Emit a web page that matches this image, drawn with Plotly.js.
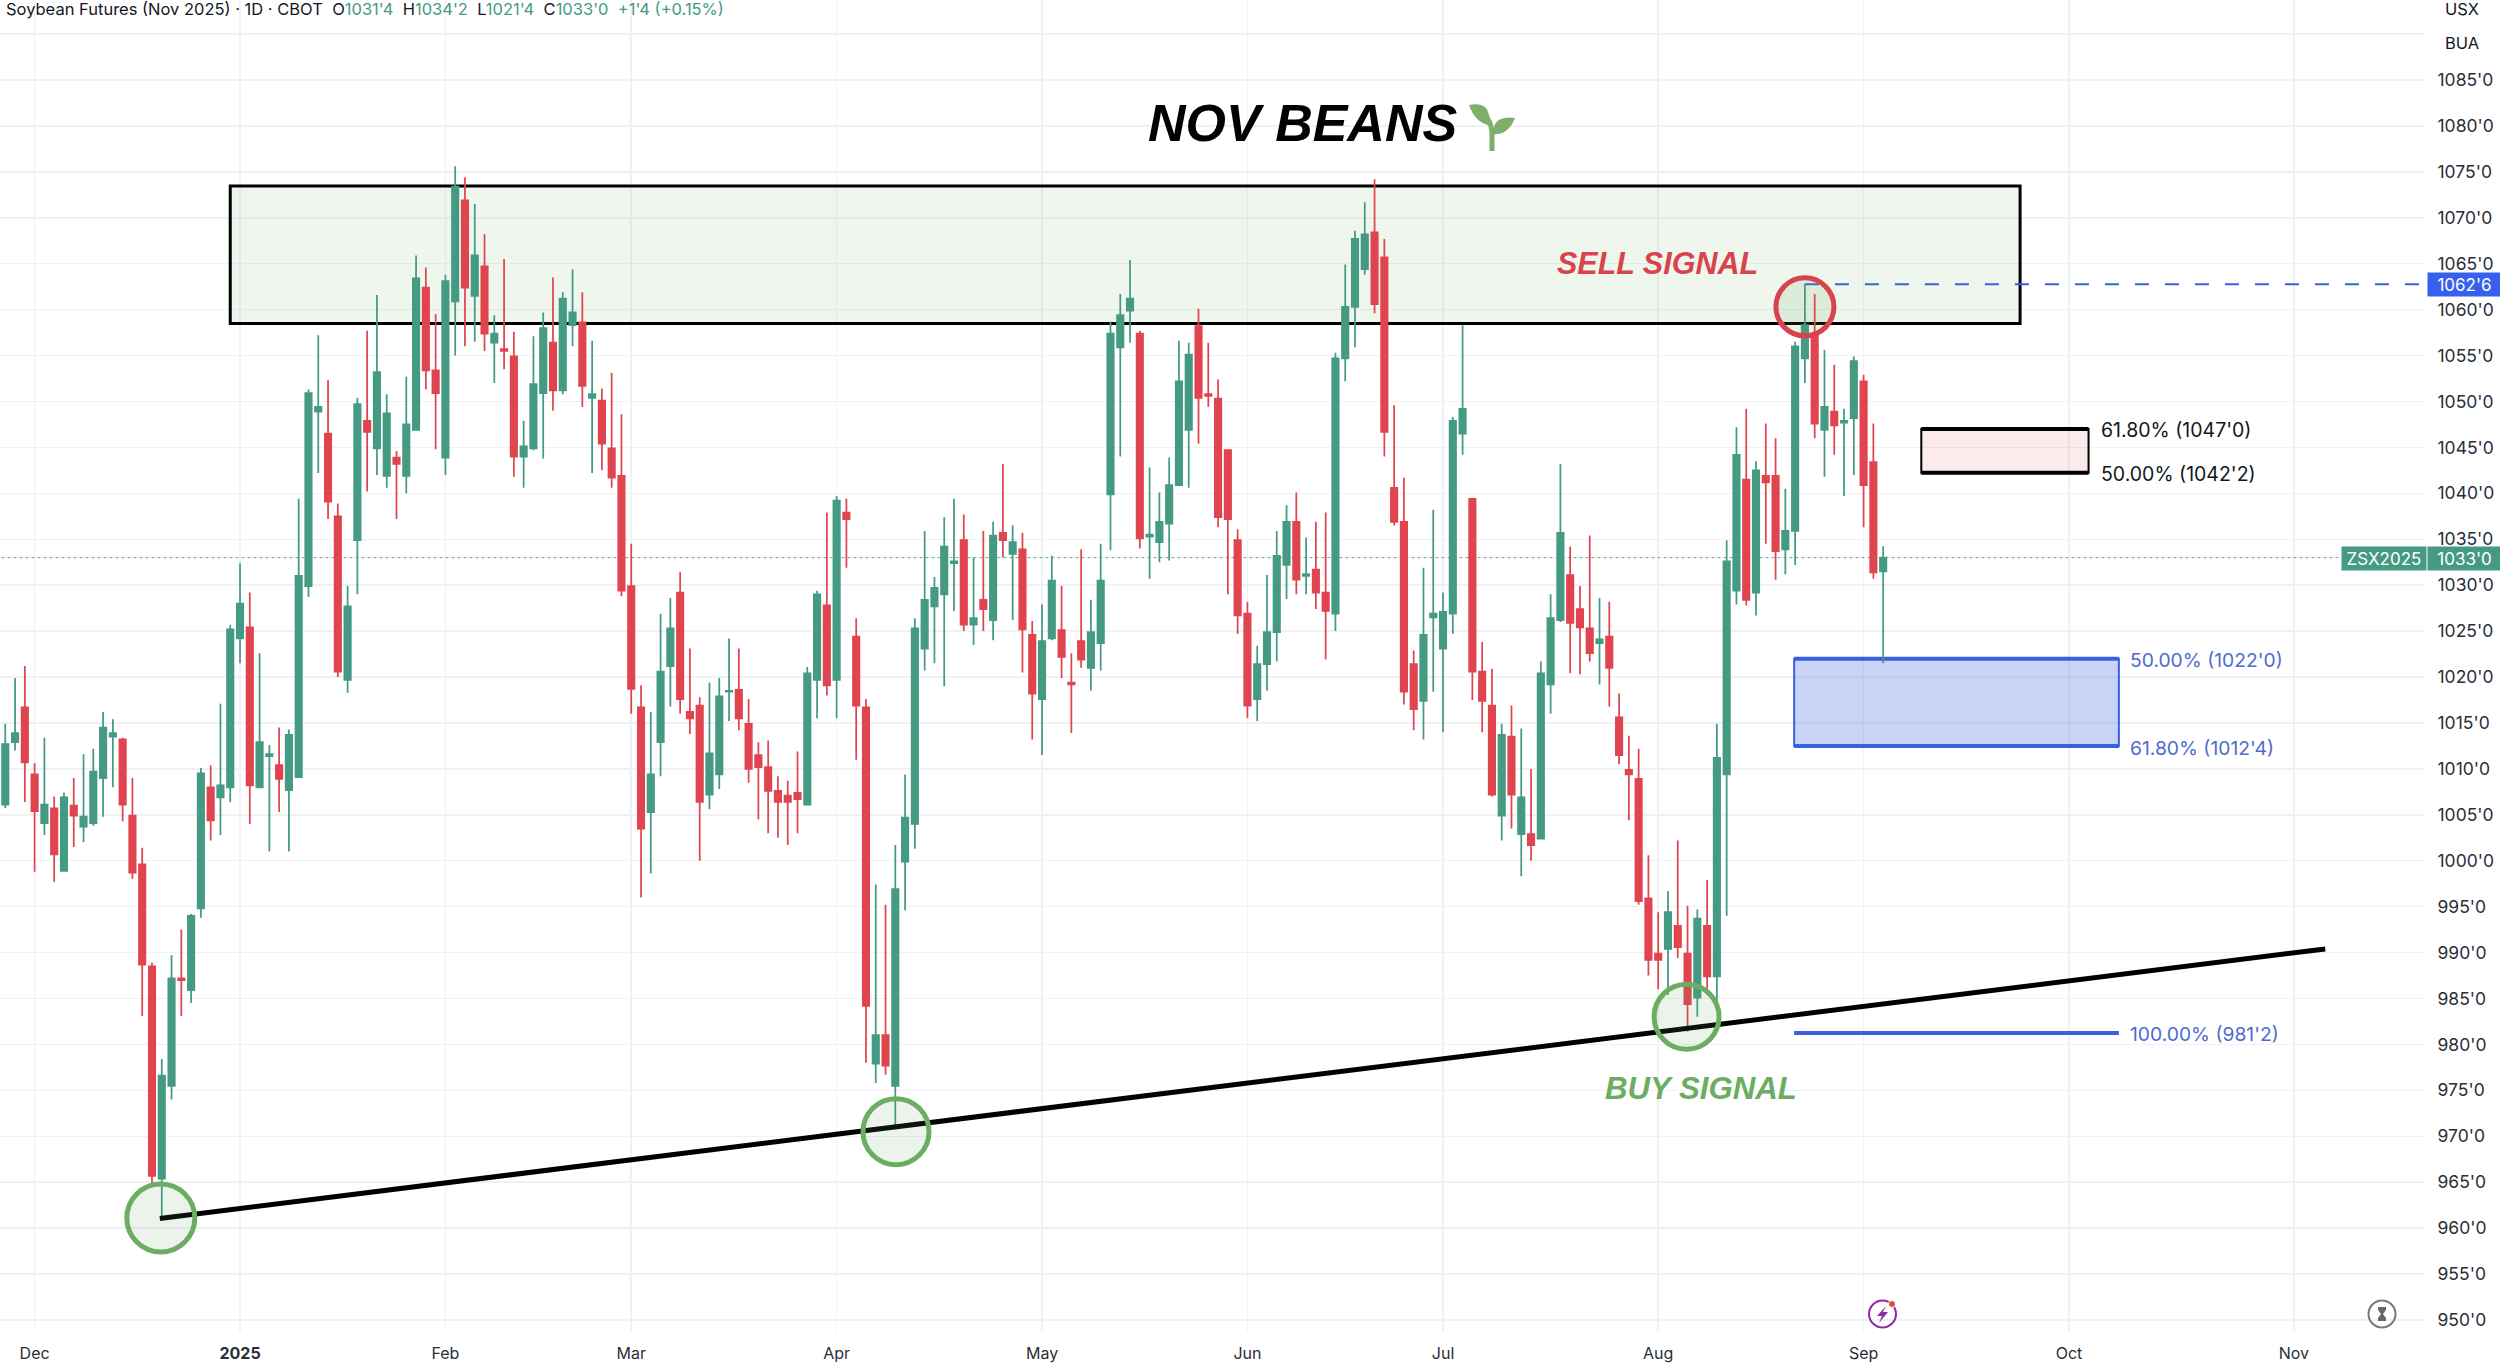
<!DOCTYPE html>
<html>
<head>
<meta charset="utf-8">
<script src="https://cdn.plot.ly/plotly-3.0.1.min.js"></script>
<style>html,body{margin:0;padding:0;background:#fff}#c{width:2500px;height:1363px}</style>
</head>
<body>
<div id="c"></div>
<script>
// ---- chart values (prices in cents/bu, decimal) ----
const opens = [
1006.1,1012.9,1016.7,1009.4,1004.1,1005.7,998.9,1006.0,1003.7,1004.1,
1009.0,1013.5,1013.2,1004.9,999.6,988.5,965.4,975.5,987.2,985.9,
994.8,1008.0,1006.9,1008.0,1024.2,1025.4,1008.0,1011.4,1010.4,1007.7,
1009.1,1029.9,1048.9,1046.5,1037.5,1019.7,1034.9,1047.9,1044.9,1041.9,
1043.9,1041.9,1046.9,1062.4,1053.4,1043.9,1060.9,1071.9,1061.5,1064.7,
1056.4,1055.7,1054.9,1044.0,1044.9,1050.9,1056.4,1051.2,1058.3,1058.6,
1050.4,1050.1,1044.9,1041.9,1029.9,1016.7,1005.3,1012.9,1021.2,1029.2,
1016.2,1016.9,1007.2,1009.4,1018.4,1018.6,1014.9,1011.5,1010.2,1007.6,
1007.1,1007.4,1006.1,1019.7,1027.8,1019.7,1037.9,1024.4,1016.7,977.9,
981.0,975.5,999.9,1004.0,1023.1,1027.7,1029.0,1032.4,1034.9,1025.7,
1028.4,1026.2,1035.7,1033.4,1033.9,1024.6,1017.6,1024.2,1025.1,1019.4,
1023.9,1021.0,1023.7,1039.9,1055.9,1059.9,1057.4,1035.3,1034.7,1036.7,
1040.9,1046.9,1058.2,1050.8,1050.3,1044.7,1034.9,1026.9,1017.6,1021.4,
1024.9,1032.2,1036.9,1031.0,1031.7,1029.2,1026.9,1054.7,1060.3,1064.4,
1068.4,1065.7,1040.6,1036.9,1021.4,1017.4,1026.5,1023.1,1026.9,1046.5,
1039.4,1020.6,1016.9,1004.9,1013.5,1002.9,1002.9,1002.4,1019.2,1026.2,
1031.1,1027.4,1025.3,1023.7,1024.4,1015.6,1009.9,1008.9,995.9,989.9,
990.4,992.9,989.9,985.1,992.9,987.4,1009.4,1029.4,1041.5,1029.2,
1041.9,1041.9,1033.9,1035.9,1054.7,1057.3,1046.9,1048.9,1047.7,1048.2,
1052.2,1043.4,1031.5];
const highs = [
1014.9,1019.9,1021.2,1010.6,1013.4,1007.0,1007.4,1009.0,1011.6,1012.2,
1016.2,1015.4,1013.4,1009.0,1001.4,988.9,978.4,989.7,992.5,994.2,
1010.1,1010.4,1017.1,1025.7,1032.4,1029.2,1022.6,1012.6,1014.5,1014.3,
1039.4,1051.3,1057.2,1052.3,1038.9,1029.9,1050.4,1057.7,1061.6,1050.8,
1044.6,1052.7,1065.9,1064.6,1059.5,1063.8,1075.6,1074.4,1071.5,1068.2,
1059.4,1065.5,1057.6,1047.9,1057.1,1059.7,1063.5,1061.9,1064.4,1061.9,
1056.6,1051.4,1053.1,1048.6,1034.5,1019.1,1016.2,1026.9,1028.6,1031.4,
1023.1,1017.8,1019.4,1019.9,1024.2,1023.1,1017.6,1012.9,1013.1,1009.2,
1008.7,1011.9,1021.1,1029.4,1037.9,1039.7,1039.4,1026.4,1017.6,997.4,
995.2,1001.7,1009.4,1026.4,1035.9,1030.9,1037.4,1039.4,1037.7,1033.0,
1035.9,1036.9,1043.2,1036.5,1035.7,1026.1,1027.9,1033.2,1029.9,1022.6,
1033.9,1028.4,1034.5,1058.7,1061.7,1065.4,1057.7,1042.8,1040.1,1043.9,
1056.6,1056.4,1060.1,1056.4,1052.4,1044.7,1036.1,1028.2,1023.4,1031.1,
1035.9,1038.7,1040.1,1035.2,1036.9,1037.9,1055.3,1064.9,1068.6,1071.7,
1074.2,1067.7,1049.6,1041.7,1022.9,1031.9,1038.2,1029.2,1048.3,1058.3,
1039.5,1023.8,1020.9,1014.9,1016.9,1014.4,1010.0,1021.7,1029.0,1043.2,
1034.2,1029.9,1035.4,1028.6,1028.2,1018.2,1013.6,1012.2,1000.6,994.4,
996.7,1002.2,995.1,994.7,997.9,1014.9,1034.9,1047.2,1049.2,1043.5,
1047.6,1046.0,1040.5,1056.5,1062.75,1061.7,1055.6,1054.0,1049.2,1054.9,
1052.9,1047.6,1034.25];
const lows = [
1005.7,1012.0,1006.4,998.8,1002.8,997.7,998.9,1001.5,1002.0,1003.8,
1004.8,1008.0,1004.3,998.0,983.1,964.6,961.2,974.0,983.1,984.5,
993.8,1002.2,1002.8,1006.4,1021.5,1004.0,1008.0,1001.0,1005.3,1001.0,
1009.1,1028.7,1042.2,1037.2,1020.0,1018.3,1029.0,1040.2,1042.0,1040.6,
1037.2,1040.0,1046.9,1051.3,1044.8,1042.0,1055.0,1056.0,1056.5,1055.5,
1052.0,1053.5,1041.8,1040.6,1044.7,1043.8,1049.0,1050.8,1056.0,1049.4,
1042.2,1042.5,1040.6,1028.8,1016.0,996.0,998.6,1009.2,1016.8,1016.0,
1013.8,1000.0,1005.6,1007.8,1015.2,1014.2,1008.5,1004.5,1003.0,1002.5,
1001.7,1003.0,1006.0,1015.5,1018.0,1015.5,1031.9,1011.0,978.0,975.8,
976.7,971.2,994.6,1001.3,1020.7,1021.5,1019.0,1027.2,1025.0,1023.5,
1025.0,1024.0,1033.0,1026.2,1020.5,1013.2,1011.5,1024.0,1019.9,1013.9,
1021.0,1018.5,1020.7,1033.8,1044.0,1056.4,1034.0,1030.7,1032.5,1032.7,
1040.9,1040.6,1045.4,1049.4,1036.3,1029.0,1024.7,1015.5,1015.2,1018.5,
1021.7,1028.5,1029.0,1029.0,1027.4,1021.9,1025.0,1052.2,1055.9,1063.8,
1059.6,1044.0,1036.5,1017.0,1014.2,1013.2,1018.4,1014.0,1024.7,1044.2,
1017.5,1014.0,1007.0,1002.2,1003.5,998.3,1000.0,1002.3,1016.0,1026.0,
1020.4,1020.3,1021.7,1019.2,1016.8,1010.5,1004.4,995.2,987.5,986.0,
985.4,989.4,981.4,983.0,985.4,984.7,994.0,1027.9,1027.8,1026.7,
1034.5,1030.6,1031.2,1032.2,1052.0,1046.0,1041.8,1044.2,1039.7,1042.0,
1036.3,1030.7,1021.5];
const closes = [
1012.7,1013.9,1010.7,1005.4,1006.1,1000.7,1006.9,1004.9,1004.8,1009.7,
1014.5,1013.9,1006.1,998.7,988.7,965.7,976.6,987.2,987.0,994.0,
1009.5,1004.4,1008.2,1025.2,1028.0,1008.2,1012.9,1011.6,1008.9,1013.7,
1031.0,1050.9,1049.4,1039.1,1020.6,1027.7,1049.7,1046.7,1053.2,1048.7,
1043.2,1047.5,1063.4,1053.4,1050.9,1063.1,1073.4,1062.4,1065.9,1057.4,
1057.4,1055.5,1044.0,1045.1,1051.9,1058.0,1051.2,1061.2,1059.7,1051.7,
1050.8,1045.4,1041.7,1029.4,1018.7,1003.5,1009.4,1020.6,1025.3,1017.6,
1015.5,1006.4,1011.7,1017.9,1018.5,1015.5,1010.0,1010.2,1007.6,1006.4,
1006.4,1006.7,1020.4,1029.0,1019.1,1039.2,1037.2,1016.9,984.2,981.0,
977.7,996.9,1004.7,1025.3,1028.4,1029.7,1034.2,1032.6,1025.7,1026.4,
1027.4,1035.4,1034.9,1034.7,1025.2,1018.2,1023.9,1030.5,1022.2,1019.2,
1021.9,1024.9,1030.5,1057.4,1059.4,1061.2,1035.1,1035.5,1036.9,1040.9,
1052.2,1055.1,1050.4,1050.6,1037.4,1037.2,1026.7,1016.9,1021.4,1024.9,
1033.2,1036.9,1030.6,1031.2,1029.2,1027.2,1054.7,1060.3,1067.7,1068.2,
1060.6,1046.7,1036.9,1018.4,1016.5,1024.6,1026.9,1027.1,1047.9,1049.2,
1020.6,1017.4,1007.2,1013.7,1007.2,1006.9,1001.7,1020.4,1026.4,1035.7,
1025.9,1025.4,1022.6,1024.1,1021.0,1011.5,1009.4,995.6,989.2,989.2,
994.4,990.6,984.4,993.7,987.4,1011.2,1032.6,1044.2,1028.4,1042.5,
1041.2,1033.7,1035.9,1056.0,1058.3,1047.6,1049.4,1047.4,1047.9,1054.4,
1040.9,1031.4,1033.0];
const barIndex = opens.map((_, i) => i);

const monthBars   = [3, 24, 45, 64, 85, 106, 127, 147, 169, 190, 211, 234];
const monthLabels = ['Dec', '<b>2025</b>', 'Feb', 'Mar', 'Apr', 'May', 'Jun', 'Jul', 'Aug', 'Sep', 'Oct', 'Nov'];
const priceTicks  = [950,955,960,965,970,975,980,985,990,995,1000,1005,1010,1015,1020,1025,1030,1035,1040,1045,1050,1055,1060,1065,1070,1075,1080,1085,1090];
const priceLabels = priceTicks.map(p => p === 1090 ? '' : p + "'0");

const resistanceZone = {x0: 23, x1: 206, top: 1073.45, bottom: 1058.5};
const trendLine      = {x0: 15.8, y0: 961.05, x1: 237.2, y1: 990.4};
const lastPrice = 1033, swingHigh = 1062.75;
const fibUpper = {top: 1047, bottom: 1042.25, x0: 195.9, x1: 213};
const fibLower = {top: 1022, bottom: 1012.5, full: 981.25, x0: 182.9, x1: 216.1};
const buyCircles  = [[15.9, 961.1, 68], [91.07, 970.5, 66], [171.9, 983, 65]];
const sellCircle  = [184, 1060.3, 58];

// ---- styling ----
const UP = '#459a83', DOWN = '#e0454f', BLUE = '#3860e0', GREEN = '#6bae62', RED = '#d9434b';
const PW = 2425, PH = 1331;
const px = x => x / PW, py = y => 1 - y / PH;
const UI = 'Inter, "Noto Sans", sans-serif', DISP = '"Liberation Sans", Arial, sans-serif';

function pxPath(cmds) { // cmds: page-pixel path, converted to paper coordinates
  return cmds.replace(/(-?[\d.]+),(-?[\d.]+)/g, (m, a, b) => px(+a).toFixed(5) + ',' + py(+b).toFixed(5));
}
const paperShape = o => Object.assign({xref: 'paper', yref: 'paper', layer: 'above'}, o);
const pxEllipse = (cx, cy, r, line, fill) => paperShape({type: 'circle', x0: px(cx - r), x1: px(cx + r), y0: py(cy + r), y1: py(cy - r), line, fillcolor: fill || 'rgba(0,0,0,0)'});

const circleShape = (c, col) => ({type: 'circle', xref: 'x', yref: 'y', xsizemode: 'pixel', ysizemode: 'pixel',
  xanchor: c[0], yanchor: c[1], x0: -c[2] / 2, x1: c[2] / 2, y0: -c[2] / 2, y1: c[2] / 2,
  line: {color: col, width: 5}, fillcolor: 'rgba(90,160,80,0.12)', layer: 'above'});
const dataLine = (x0, y0, x1, y1, color, width, dash, layer) => ({type: 'line', xref: 'x', yref: 'y', x0, y0, x1, y1, line: {color, width, dash: dash || 'solid'}, layer: layer || 'between'});

const shapes = [
  {type: 'rect', xref: 'x', yref: 'y', x0: resistanceZone.x0, x1: resistanceZone.x1, y0: resistanceZone.bottom, y1: resistanceZone.top,
   fillcolor: 'rgba(76,160,70,0.09)', line: {color: '#000', width: 3}, layer: 'between'},
  dataLine(-1, lastPrice, 238.8, lastPrice, '#6aa796', 1, 'dot'),
  // fib boxes
  {type: 'rect', xref: 'x', yref: 'y', x0: fibUpper.x0, x1: fibUpper.x1, y0: fibUpper.bottom, y1: fibUpper.top, fillcolor: 'rgba(224,90,90,0.12)', line: {color: '#000', width: 2}, layer: 'between'},
  dataLine(fibUpper.x0, fibUpper.top, fibUpper.x1, fibUpper.top, '#000', 4),
  dataLine(fibUpper.x0, fibUpper.bottom, fibUpper.x1, fibUpper.bottom, '#000', 4),
  {type: 'rect', xref: 'x', yref: 'y', x0: fibLower.x0, x1: fibLower.x1, y0: fibLower.bottom, y1: fibLower.top, fillcolor: 'rgba(56,96,224,0.28)', line: {color: BLUE, width: 2}, layer: 'between'},
  dataLine(fibLower.x0, fibLower.top, fibLower.x1, fibLower.top, BLUE, 4),
  dataLine(fibLower.x0, fibLower.bottom, fibLower.x1, fibLower.bottom, BLUE, 4),
  dataLine(fibLower.x0, fibLower.full, fibLower.x1, fibLower.full, BLUE, 4),
  dataLine(sellCircle[0], swingHigh, 248, swingHigh, BLUE, 2, '14px,16px'),
  dataLine(trendLine.x0, trendLine.y0, trendLine.x1, trendLine.y1, '#000', 5, 'solid', 'above'),
  ...buyCircles.map(c => circleShape(c, GREEN)),
  circleShape(sellCircle, RED),
  // sprout icon
  paperShape({type: 'path', path: pxPath('M1469,105 Q1485,102 1488,112 Q1492,122 1488,125 Q1475,122 1469,105 Z'), fillcolor: '#7fb069', line: {width: 0}}),
  paperShape({type: 'path', path: pxPath('M1515,118 Q1500,116 1495,124 L1492,134 Q1508,136 1515,118 Z'), fillcolor: '#7fb069', line: {width: 0}}),
  paperShape({type: 'path', path: pxPath('M1492,151 L1492,132 Q1491,121 1484,114'), line: {color: '#7fb069', width: 5}}),
  // bottom icons
  pxEllipse(1882.5, 1314, 13.5, {color: '#8e2aa8', width: 2}),
  paperShape({type: 'path', path: pxPath('M1886,1306 L1877,1316 L1882,1316 L1879,1323 L1888,1312 L1883,1312 Z'), fillcolor: '#8e2aa8', line: {width: 0}}),
  pxEllipse(1892, 1304, 3.5, {color: '#fff', width: 1}, '#e2453c'),
  pxEllipse(2382, 1314, 13.5, {color: '#777', width: 2}),
  paperShape({type: 'path', path: pxPath('M2378,1307 L2386,1307 L2386,1310 L2383,1314 L2386,1318 L2386,1321 L2378,1321 L2378,1318 L2381,1314 L2378,1310 Z'), fillcolor: '#666', line: {width: 0}})
];

const pageText = (x, y, text, size, color, anchor, family) => ({xref: 'paper', yref: 'paper', x: px(x), y: py(y), text, showarrow: false,
  xanchor: anchor || 'left', yanchor: 'middle', align: 'left', font: {size, color, family: family || UI}, borderpad: 0});
const boxLabel = (x0, x1, yc, h, text, bg) => ({xref: 'paper', yref: 'paper', x: px(x0), y: py(yc), xanchor: 'left', yanchor: 'middle',
  width: x1 - x0, height: h, bgcolor: bg, text, showarrow: false, align: 'center', font: {size: 17, color: '#fff', family: UI}, borderpad: 0});
const G = s => `<span style="color:#459a83">${s}</span>`;
const F = '#4f6bcf';

const annotations = [
  pageText(5, 9, 'Soybean Futures (Nov 2025) · 1D · CBOT  O' + G("1031'4") + '  H' + G("1034'2") + '  L' + G("1021'4") + '  C' + G("1033'0") + '  ' + G("+1'4 (+0.15%)"), 16.5, '#131722'),
  pageText(2444, 9, 'USX', 16.5, '#131722'),
  pageText(2444, 43, 'BUA', 16.5, '#131722'),
  pageText(1147, 123, '<b><i>NOV BEANS</i></b>', 52, '#000', 'left', DISP),
  pageText(1556, 263, '<b><i>SELL SIGNAL</i></b>', 30.5, RED, 'left', DISP),
  pageText(1604, 1088, '<b><i>BUY SIGNAL</i></b>', 31.2, GREEN, 'left', DISP),
  pageText(2100, 430, "61.80% (1047'0)", 19.5, '#131722'),
  pageText(2100, 474, "50.00% (1042'2)", 19.5, '#131722'),
  pageText(2129, 660, "50.00% (1022'0)", 19.3, F),
  pageText(2129, 748, "61.80% (1012'4)", 19.3, F),
  pageText(2129, 1034, "100.00% (981'2)", 19.3, F),
  boxLabel(2427, 2500, 284.5, 23, "1062'6", '#3860ee'),
  boxLabel(2341, 2425, 558, 23, 'ZSX2025', '#459a83'),
  boxLabel(2427, 2500, 558, 23, "1033'0", '#459a83')
];

const candles = {
  type: 'candlestick', x: barIndex, open: opens, high: highs, low: lows, close: closes,
  increasing: {line: {color: UP, width: 1.75}, fillcolor: UP},
  decreasing: {line: {color: DOWN, width: 1.75}, fillcolor: DOWN},
  whiskerwidth: 0, hoverinfo: 'skip', showlegend: false
};

const layout = {
  width: 2500, height: 1363, autosize: false, paper_bgcolor: '#fff', plot_bgcolor: '#fff',
  margin: {l: 0, r: 75, t: 0, b: 32, pad: 0},
  boxgap: 0.07, showlegend: false,
  xaxis: {type: 'linear', range: [-0.54, 247.4], tickmode: 'array', tickvals: monthBars, ticktext: monthLabels, rangeslider: {visible: false},
    showgrid: true, gridcolor: '#f0f1f4', gridwidth: 1.5, zeroline: false, showline: false, ticks: 'outside', ticklen: 8, tickcolor: 'rgba(0,0,0,0)',
    tickfont: {size: 16, color: '#2a2e39', family: UI}, tickangle: 0},
  yaxis: {type: 'linear', side: 'right', range: [948.8, 1093.71], tickmode: 'array', tickvals: priceTicks, ticktext: priceLabels,
    showgrid: true, gridcolor: '#f0f1f4', gridwidth: 1.5, zeroline: false, showline: false, ticks: 'outside', ticklen: 8, tickcolor: 'rgba(0,0,0,0)',
    tickfont: {size: 17.5, color: '#2a2e39', family: UI}},
  shapes, annotations
};

Plotly.newPlot('c', [candles], layout, {displayModeBar: false, staticPlot: true});
</script>
</body>
</html>
